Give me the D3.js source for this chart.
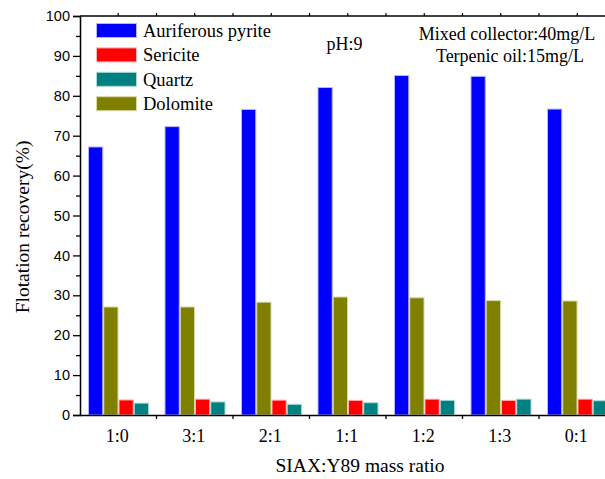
<!DOCTYPE html>
<html>
<head>
<meta charset="utf-8">
<script src="https://cdn.jsdelivr.net/npm/d3@7"></script>
<style>
html,body{margin:0;padding:0;background:#fff;}
svg{display:block;}
</style>
</head>
<body>
<svg id="chart" width="605" height="479"></svg>
<script>
const categories = ["1:0","3:1","2:1","1:1","1:2","1:3","0:1"];
const seriesNames = ["Auriferous pyrite","Dolomite","Sericite","Quartz"];
const legendOrder = ["Auriferous pyrite","Sericite","Quartz","Dolomite"];
const pyrite   = [67.3, 72.4, 76.7, 82.2, 85.2, 85.0, 76.8];
const dolomite = [27.2, 27.2, 28.4, 29.7, 29.5, 28.8, 28.7];
const sericite = [3.9, 4.1, 3.85, 3.8, 4.1, 3.8, 4.1];
const quartz   = [3.1, 3.4, 2.8, 3.2, 3.8, 4.1, 3.7];
const yTicks = [0,10,20,30,40,50,60,70,80,90,100];

const seriesValues = {"Auriferous pyrite": pyrite, "Dolomite": dolomite, "Sericite": sericite, "Quartz": quartz};
const fills = {"Auriferous pyrite":"#0000ff","Sericite":"#ff0000","Quartz":"#008080","Dolomite":"#808000"};
const strokes = {"Auriferous pyrite":"#b4b4ff","Sericite":"#ffb4b4","Quartz":"#a8d8d8","Dolomite":"#d8d8a8"};

const svg = d3.select("#chart");
const mLeft = 80, mTop = 16, mBottom = 415;
const groupW = 76.5;
const x = d3.scaleBand().domain(categories).range([mLeft, mLeft + groupW*categories.length]).padding(0);
const xi = d3.scaleBand().domain(seriesNames).range([8, 69]).padding(0);
const y = d3.scaleLinear().domain([0,100]).range([mBottom, mTop]);

const serif = "Liberation Serif, Times New Roman, serif";
const sans = "Liberation Sans, Arial, sans-serif";

// bars
const g = svg.append("g");
categories.forEach((c, i) => {
  seriesNames.forEach(s => {
    const v = seriesValues[s][i];
    g.append("rect")
      .attr("x", x(c) + xi(s) + 0.5)
      .attr("y", y(v) + 0.5)
      .attr("width", xi.bandwidth() - 1)
      .attr("height", y(0) - y(v) - 0.5)
      .attr("fill", fills[s])
      .attr("stroke", strokes[s])
      .attr("stroke-width", 1);
  });
});

// y axis
const yAxis = d3.axisLeft(y).tickValues(yTicks).tickSize(7).tickPadding(3).tickFormat(d3.format("d"));
const ya = svg.append("g").attr("transform", `translate(${mLeft},0)`).call(yAxis);
ya.select(".domain").attr("stroke", "#000").attr("stroke-width", 1.5);
ya.selectAll(".tick line").attr("stroke-width", 1.3);
ya.selectAll("text").attr("font-family", sans).attr("font-size", 14.5).attr("fill", "#000");
// minor y ticks
const minor = d3.range(5, 100, 10);
svg.append("g").attr("transform", `translate(${mLeft},0)`)
  .call(d3.axisLeft(y).tickValues(minor).tickSize(4).tickFormat(""))
  .call(s => s.select(".domain").remove())
  .selectAll(".tick line").attr("stroke-width", 1.3);

// bottom axis
const xa = svg.append("g").attr("transform", `translate(0,${mBottom})`)
  .call(d3.axisBottom(x).tickSize(0).tickPadding(14));
xa.select(".domain").attr("stroke", "#000").attr("stroke-width", 1.5);
xa.selectAll("text").attr("font-family", serif).attr("font-size", 18).attr("fill", "#000").attr("dx", -1);
// bottom boundary ticks
const bounds = categories.slice(1).map(c => x(c));
svg.append("g").selectAll("line").data(bounds).join("line")
  .attr("x1", d => d).attr("x2", d => d).attr("y1", mBottom).attr("y2", mBottom + 4)
  .attr("stroke", "#000").attr("stroke-width", 1.3);

// top frame
svg.append("line").attr("x1", mLeft).attr("x2", 605).attr("y1", mTop).attr("y2", mTop)
  .attr("stroke", "#000").attr("stroke-width", 1.5);
const topTicks = [];
categories.forEach(c => { topTicks.push(x(c) + x.bandwidth()/2); topTicks.push(x(c) + x.bandwidth()); });
svg.append("g").selectAll("line").data(topTicks.filter(d => d < 605)).join("line")
  .attr("x1", d => d).attr("x2", d => d).attr("y1", mTop).attr("y2", mTop - 3)
  .attr("stroke", "#000").attr("stroke-width", 1.2);

// axis titles
svg.append("text").attr("transform", "translate(29,227) rotate(-90)")
  .attr("text-anchor", "middle").attr("font-family", serif).attr("font-size", 19.5)
  .text("Flotation recovery(%)");
svg.append("text").attr("x", 360).attr("y", 472).attr("text-anchor", "middle")
  .attr("font-family", serif).attr("font-size", 19.5).text("SIAX:Y89 mass ratio");

// legend
const lg = svg.append("g");
legendOrder.forEach((s, i) => {
  const cy = 30.5 + i*24.4;
  lg.append("rect").attr("x", 96.5).attr("y", cy - 7).attr("width", 40).attr("height", 14)
    .attr("fill", fills[s]).attr("stroke", strokes[s]).attr("stroke-width", 1);
  lg.append("text").attr("x", 143).attr("y", cy + 6.5).attr("font-family", serif)
    .attr("font-size", 18.5).text(s);
});

// annotations
svg.append("text").attr("x", 344.5).attr("y", 50).attr("text-anchor", "middle")
  .attr("font-family", serif).attr("font-size", 18).text("pH:9");
svg.append("text").attr("x", 507).attr("y", 39.5).attr("text-anchor", "middle")
  .attr("font-family", serif).attr("font-size", 18).text("Mixed collector:40mg/L");
svg.append("text").attr("x", 510).attr("y", 62).attr("text-anchor", "middle")
  .attr("font-family", serif).attr("font-size", 18).text("Terpenic oil:15mg/L");
</script>
</body>
</html>
